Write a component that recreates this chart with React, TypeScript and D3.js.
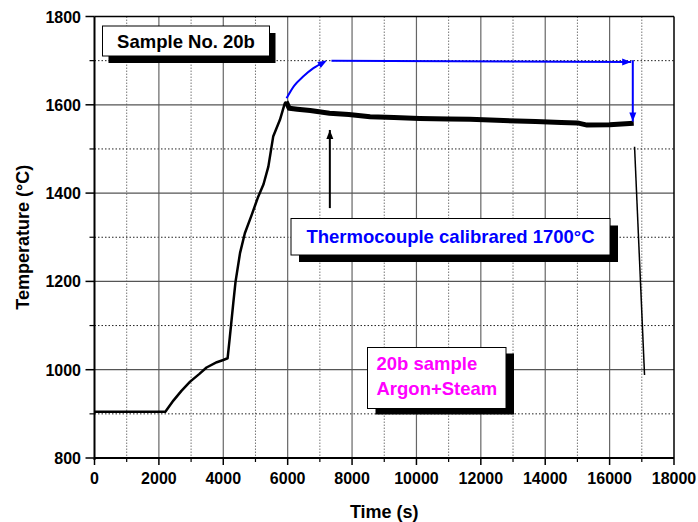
import React from "react";
import * as d3 from "d3";

// ---- Data ----
const heatTime = [0, 2200, 2450, 2700, 2970, 3250, 3480, 3800, 4000, 4135, 4205, 4310, 4380, 4520, 4670, 4880, 5085, 5250, 5400, 5550, 5760, 5910, 5950];
const heatTemp = [905, 905, 930, 952, 973, 990, 1005, 1017, 1022, 1026, 1075, 1150, 1199, 1264, 1309, 1350, 1392, 1420, 1460, 1528, 1566, 1603, 1607];

const holdTime = [5950, 6050, 6300, 6700, 7300, 7900, 8560, 9300, 10100, 11000, 11660, 12500, 13700, 14500, 15000, 15300, 16000, 16750];
const holdTemp = [1607, 1592, 1590, 1587, 1581, 1578, 1573, 1571, 1569, 1568, 1567, 1565, 1562, 1560, 1559, 1554, 1555, 1558];

const coolTime = [16775, 17085];
const coolTemp = [1505, 988];

const blueCurveTime = [5966, 6200, 6481, 6800, 7154];
const blueCurveTemp = [1615, 1643, 1664, 1683, 1698];
const blueHorizTime = [7360, 16670];
const blueHorizTemp = [1700, 1697];
const blueVertTime = [16720, 16720];
const blueVertTemp = [1701, 1562];

const blackArrowTime = [7310, 7310];
const blackArrowTemp = [1366, 1543];

const xMajorTicks = [0, 2000, 4000, 6000, 8000, 10000, 12000, 14000, 16000, 18000];
const xMinorTicks = [1000, 3000, 5000, 7000, 9000, 11000, 13000, 15000, 17000];
const yMajorTicks = [800, 1000, 1200, 1400, 1600, 1800];
const yMinorTicks = [900, 1100, 1300, 1500, 1700];

const FONT = "Arial, 'Liberation Sans', sans-serif";

export default function App() {
  const x = d3.scaleLinear().domain([0, 18000]).range([94.5, 674]);
  const y = d3.scaleLinear().domain([800, 1800]).range([458, 16.5]);
  const line = d3
    .line<[number, number]>()
    .x((d) => x(d[0]))
    .y((d) => y(d[1]));
  const curve = d3
    .line<[number, number]>()
    .x((d) => x(d[0]))
    .y((d) => y(d[1]))
    .curve(d3.curveMonotoneX);
  const zip = (a: number[], b: number[]) => a.map((v, i) => [v, b[i]] as [number, number]);

  const x0 = x(0), x1 = x(18000), y0 = y(800), y1 = y(1800);

  const arrowHead = (tx: number, ty: number, angle: number, color: string, len = 9, w = 3.5) => {
    const ca = Math.cos(angle), sa = Math.sin(angle);
    const bx = tx - len * ca, by = ty - len * sa;
    const p1 = [bx + w * -sa, by + w * ca];
    const p2 = [bx - w * -sa, by - w * ca];
    return <path d={`M${tx},${ty}L${p1[0]},${p1[1]}L${p2[0]},${p2[1]}Z`} fill={color} />;
  };

  const bc = zip(blueCurveTime, blueCurveTemp);
  const bcLast = bc[bc.length - 1], bcPrev = bc[bc.length - 2];
  const bcAngle = Math.atan2(y(bcLast[1]) - y(bcPrev[1]), x(bcLast[0]) - x(bcPrev[0]));

  const box = (bx: number, by: number, w: number, h: number, sx: number, sy: number) => (
    <g>
      <rect x={bx + sx} y={by + sy} width={w} height={h} fill="#000" />
      <rect x={bx} y={by} width={w} height={h} fill="#fff" stroke="#000" strokeWidth={1} />
    </g>
  );

  return (
    <div style={{ position: "absolute", left: 0, top: 0 }}>
      <svg width={698} height={522} style={{ display: "block", background: "#fff" }}>
        {/* grid */}
        {xMinorTicks.map((t) => (
          <line key={"xm" + t} x1={x(t)} x2={x(t)} y1={y1} y2={y0} stroke="#777" strokeWidth={1} strokeDasharray="1.5,1.5" />
        ))}
        {yMinorTicks.map((t) => (
          <line key={"ym" + t} x1={x0} x2={x1} y1={y(t)} y2={y(t)} stroke="#222" strokeWidth={1} strokeDasharray="1.5,2" />
        ))}
        {xMajorTicks.slice(1, -1).map((t) => (
          <line key={"xM" + t} x1={x(t)} x2={x(t)} y1={y1} y2={y0} stroke="#666" strokeWidth={1.2} />
        ))}
        {yMajorTicks.slice(1, -1).map((t) => (
          <line key={"yM" + t} x1={x0} x2={x1} y1={y(t)} y2={y(t)} stroke="#555" strokeWidth={1.2} />
        ))}
        {/* frame */}
        <line x1={x0} x2={x1} y1={y1} y2={y1} stroke="#000" strokeWidth={1.5} />
        <line x1={x1} x2={x1} y1={y1} y2={y0} stroke="#000" strokeWidth={1.5} />
        <line x1={x0} x2={x1} y1={y0} y2={y0} stroke="#000" strokeWidth={2} />
        <line x1={x0} x2={x0} y1={y1} y2={y0 + 2} stroke="#000" strokeWidth={2} />

        {/* ticks */}
        {xMajorTicks.map((t) => (
          <line key={"xt" + t} x1={x(t)} x2={x(t)} y1={y0} y2={y0 + 7} stroke="#000" strokeWidth={1.5} />
        ))}
        {xMinorTicks.map((t) => (
          <line key={"xtm" + t} x1={x(t)} x2={x(t)} y1={y0} y2={y0 + 4} stroke="#000" strokeWidth={1.2} />
        ))}
        {yMajorTicks.map((t) => (
          <line key={"yt" + t} x1={x0 - 9} x2={x0} y1={y(t)} y2={y(t)} stroke="#000" strokeWidth={1.5} />
        ))}
        {yMinorTicks.map((t) => (
          <line key={"ytm" + t} x1={x0 - 5} x2={x0} y1={y(t)} y2={y(t)} stroke="#000" strokeWidth={1.2} />
        ))}
        {xMajorTicks.map((t) => (
          <text key={"xl" + t} x={x(t)} y={484} textAnchor="middle" fontFamily={FONT} fontWeight="bold" fontSize={16}>
            {t}
          </text>
        ))}
        {yMajorTicks.map((t) => (
          <text key={"yl" + t} x={81} y={y(t) + 6} textAnchor="end" fontFamily={FONT} fontWeight="bold" fontSize={16}>
            {t}
          </text>
        ))}
        <text x={(x0 + x1) / 2} y={518} textAnchor="middle" fontFamily={FONT} fontWeight="bold" fontSize={18}>
          Time (s)
        </text>
        <text
          transform={`translate(29,${(y0 + y1) / 2}) rotate(-90)`}
          textAnchor="middle"
          fontFamily={FONT}
          fontWeight="bold"
          fontSize={18}
        >
          Temperature (°C)
        </text>

        {/* data */}
        <path d={line(zip(heatTime, heatTemp)) || ""} fill="none" stroke="#000" strokeWidth={2.5} strokeLinejoin="round" />
        <path d={line(zip(holdTime, holdTemp)) || ""} fill="none" stroke="#000" strokeWidth={5} strokeLinejoin="round" />
        <path d={line(zip(coolTime, coolTemp)) || ""} fill="none" stroke="#000" strokeWidth={1.5} />

        {/* blue arrows */}
        <path d={curve(bc) || ""} fill="none" stroke="#0000ff" strokeWidth={2} />
        {arrowHead(x(bcLast[0]) + 2, y(bcLast[1]) - 1, bcAngle, "#0000ff")}
        <path d={line(zip(blueHorizTime, blueHorizTemp)) || ""} fill="none" stroke="#0000ff" strokeWidth={2} />
        {arrowHead(x(blueHorizTime[1]), y(blueHorizTemp[1]), 0, "#0000ff")}
        <path d={line(zip(blueVertTime, blueVertTemp)) || ""} fill="none" stroke="#0000ff" strokeWidth={2} />
        {arrowHead(x(blueVertTime[1]), y(blueVertTemp[1]), Math.PI / 2, "#0000ff")}

        {/* black arrow */}
        <path d={line(zip(blackArrowTime, blackArrowTemp)) || ""} fill="none" stroke="#000" strokeWidth={2} />
        {arrowHead(x(blackArrowTime[1]), y(blackArrowTemp[1]), -Math.PI / 2, "#000")}

        {/* boxes */}
        {box(102.5, 26, 167, 30, 6, 7)}
        <text x={186} y={47.5} textAnchor="middle" fontFamily={FONT} fontWeight="bold" fontSize={18.5}>
          Sample No. 20b
        </text>
        {box(291, 218.5, 319, 36.5, 8, 7)}
        <text x={450.5} y={243} textAnchor="middle" fontFamily={FONT} fontWeight="bold" fontSize={18.5} fill="#0000ff">
          Thermocouple calibrared 1700°C
        </text>
        {box(367.5, 347.5, 138.5, 61, 8, 6)}
        <text x={376.5} y={370} fontFamily={FONT} fontWeight="bold" fontSize={18.5} fill="#ff00ff">
          20b sample
        </text>
        <text x={376.5} y={395} fontFamily={FONT} fontWeight="bold" fontSize={18.5} fill="#ff00ff">
          Argon+Steam
        </text>
      </svg>
    </div>
  );
}
